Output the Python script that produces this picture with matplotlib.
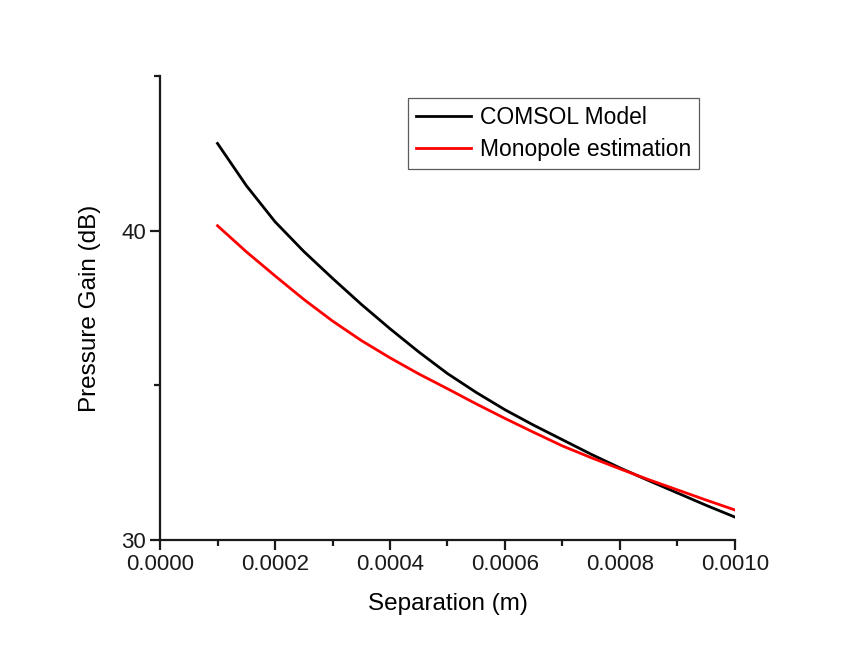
import numpy as np
import matplotlib.pyplot as plt
from matplotlib.ticker import MultipleLocator, FormatStrFormatter

plt.rcParams["font.family"] = ["Liberation Sans", "DejaVu Sans"]

# ── Data ─────────────────────────────────────────────────────────────────────
separation = [0.0001, 0.00015, 0.0002, 0.00025, 0.0003, 0.00035, 0.0004,
              0.00045, 0.0005, 0.00055, 0.0006, 0.00065, 0.0007, 0.00075,
              0.0008, 0.00085, 0.0009, 0.00095, 0.0010]
comsol_db = [42.82, 41.46, 40.29, 39.33, 38.46, 37.62, 36.83,
             36.08, 35.38, 34.77, 34.21, 33.71, 33.24, 32.77,
             32.33, 31.92, 31.52, 31.12, 30.74]
monopole_db = [40.16, 39.32, 38.54, 37.78, 37.08, 36.45, 35.89,
               35.37, 34.89, 34.40, 33.93, 33.48, 33.04, 32.66,
               32.30, 31.95, 31.62, 31.29, 30.97]

fig = plt.figure(figsize=(8.41, 6.46), dpi=100)
ax = fig.add_axes([160 / 841, 1 - 540 / 646, 575 / 841, 464 / 646])

ax.plot(separation, comsol_db, color="black", linewidth=2.0,
        solid_joinstyle="round", label="COMSOL Model")
ax.plot(separation, monopole_db, color="red", linewidth=2.0,
        solid_joinstyle="round", label="Monopole estimation")

ax.set_xlim(0, 0.001)
ax.set_ylim(30, 45)
ax.xaxis.set_major_locator(MultipleLocator(0.0002))
ax.xaxis.set_minor_locator(MultipleLocator(0.0001))
ax.xaxis.set_major_formatter(FormatStrFormatter("%.4f"))
ax.yaxis.set_major_locator(MultipleLocator(10))
ax.yaxis.set_minor_locator(MultipleLocator(5))

for side in ("top", "right"):
    ax.spines[side].set_visible(False)
for side in ("left", "bottom"):
    ax.spines[side].set_linewidth(1.6)
    ax.spines[side].set_color("#1a1a1a")

ax.tick_params(which="major", direction="out", length=7, width=1.6,
               labelsize=16, pad=3, colors="#1a1a1a")
ax.tick_params(which="minor", direction="out", length=4, width=1.6,
               colors="#1a1a1a")

ax.set_xlabel("Separation (m)", fontsize=17.5, labelpad=13)
ax.set_ylabel("Pressure Gain (dB)", fontsize=17.5, labelpad=15)

leg = ax.legend(loc="upper left", bbox_to_anchor=(408 / 841, 1 - 98 / 646),
                bbox_transform=fig.transFigure, borderaxespad=0,
                fontsize=16.5, fancybox=False, frameon=True,
                handlelength=2.4, handletextpad=0.4, labelspacing=0.4,
                borderpad=0.35)
leg.get_frame().set_edgecolor("#333333")
leg.get_frame().set_linewidth(0.9)

fig.savefig("out.png", dpi=100)
